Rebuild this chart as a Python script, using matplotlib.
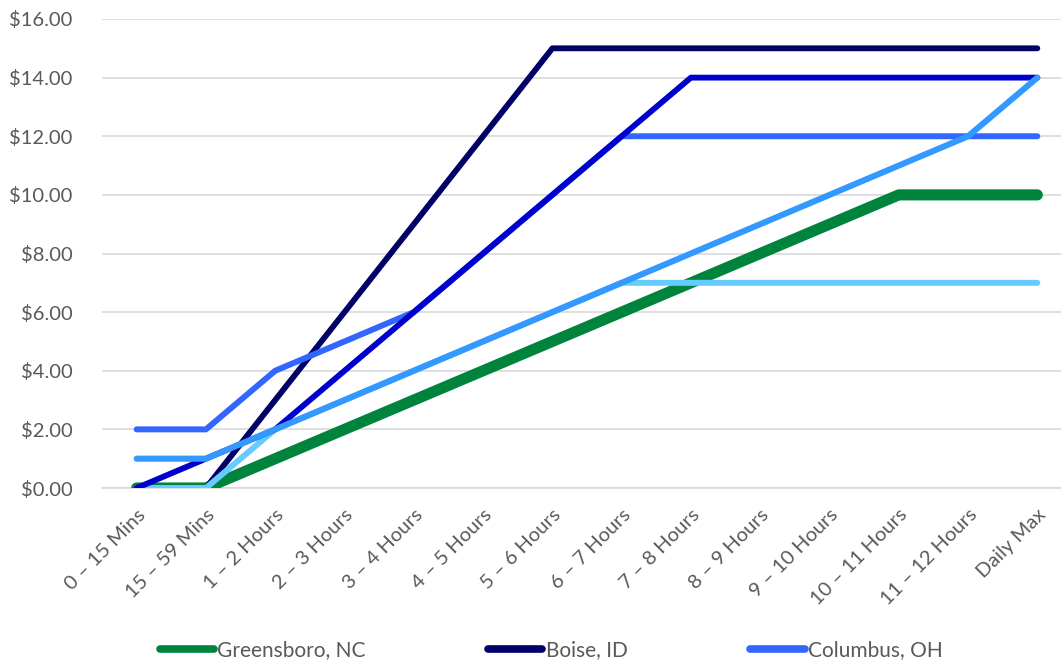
import matplotlib
matplotlib.use("Agg")
import matplotlib.pyplot as plt
from matplotlib.ticker import FuncFormatter
from matplotlib.lines import Line2D

categories = ["0 – 15 Mins", "15 – 59 Mins", "1 – 2 Hours", "2 – 3 Hours", "3 – 4 Hours",
              "4 – 5 Hours", "5 – 6 Hours", "6 – 7 Hours", "7 – 8 Hours", "8 – 9 Hours",
              "9 – 10 Hours", "10 – 11 Hours", "11 – 12 Hours", "Daily Max"]

greensboro = [0, 0, 1, 2, 3, 4, 5, 6, 7, 8, 9, 10, 10, 10]
boise      = [0, 0, 3, 6, 9, 12, 15, 15, 15, 15, 15, 15, 15, 15]
columbus   = [2, 2, 4, 5, 6, 8, 10, 12, 12, 12, 12, 12, 12, 12]
series_4   = [0, 0, 2, 3, 4, 5, 6, 7, 7, 7, 7, 7, 7, 7]
series_5   = [0, 1, 2, 4, 6, 8, 10, 12, 14, 14, 14, 14, 14, 14]
series_6   = [1, 1, 2, 3, 4, 5, 6, 7, 8, 9, 10, 11, 12, 14]

plt.rcParams['font.family'] = ['Lato', 'DejaVu Sans']
TXT = '#595959'

fig = plt.figure(figsize=(10.61, 6.63), dpi=100)
W, H = 1061, 663
x0, x1 = 102, 1072
y0, y1 = 488, 19
ax = fig.add_axes([x0 / W, 1 - y0 / H, (x1 - x0) / W, (y0 - y1) / H])

x = list(range(len(categories)))
kw = dict(solid_capstyle='round', solid_joinstyle='round')
ax.plot(x, greensboro, color='#00843D', lw=8, zorder=3, **kw)
ax.plot(x, boise, color='#000066', lw=4.2, zorder=4, **kw)
ax.plot(x, columbus, color='#3366FF', lw=4.3, zorder=5, **kw)
ax.plot(x, series_4, color='#66CCFF', lw=4.3, zorder=6, **kw)
ax.plot(x, series_5, color='#0000CC', lw=4.2, zorder=7, **kw)
ax.plot(x, series_6, color='#3399FF', lw=4.4, zorder=8, **kw)

ax.set_xlim(-0.5, len(categories) - 0.5)
ax.set_ylim(0, 16)
ax.set_yticks(range(0, 17, 2))
ax.yaxis.set_major_formatter(FuncFormatter(lambda v, p: f"${v:.2f}"))
ax.grid(axis='y', color='#D9D9D9', lw=1.2)
ax.set_axisbelow(True)
for s in ax.spines.values():
    s.set_visible(False)
ax.spines['bottom'].set_visible(True)
ax.spines['bottom'].set_color('#D9D9D9')
ax.spines['bottom'].set_linewidth(1.2)
ax.tick_params(axis='both', length=0, colors=TXT, labelsize=14.5)
ax.tick_params(axis='y', pad=21)
ax.set_xticks(x)
ax.set_xticklabels(categories, rotation=45, ha='right', va='top', rotation_mode='anchor')
ax.tick_params(axis='x', pad=13)

handles = [Line2D([], [], color='#00843D', lw=5.5, solid_capstyle='round'),
           Line2D([], [], color='#000066', lw=5.5, solid_capstyle='round'),
           Line2D([], [], color='#3366FF', lw=5.5, solid_capstyle='round')]
labels = ['Greensboro, NC', 'Boise, ID', 'Columbus, OH']
leg = fig.legend(handles, labels, loc='center', bbox_to_anchor=(551 / W, 1 - 650 / H), ncol=3,
                 frameon=False, fontsize=15, handlelength=2.6, handletextpad=0.15,
                 columnspacing=5.9, labelcolor=TXT)

fig.savefig('out.png', dpi=100)
